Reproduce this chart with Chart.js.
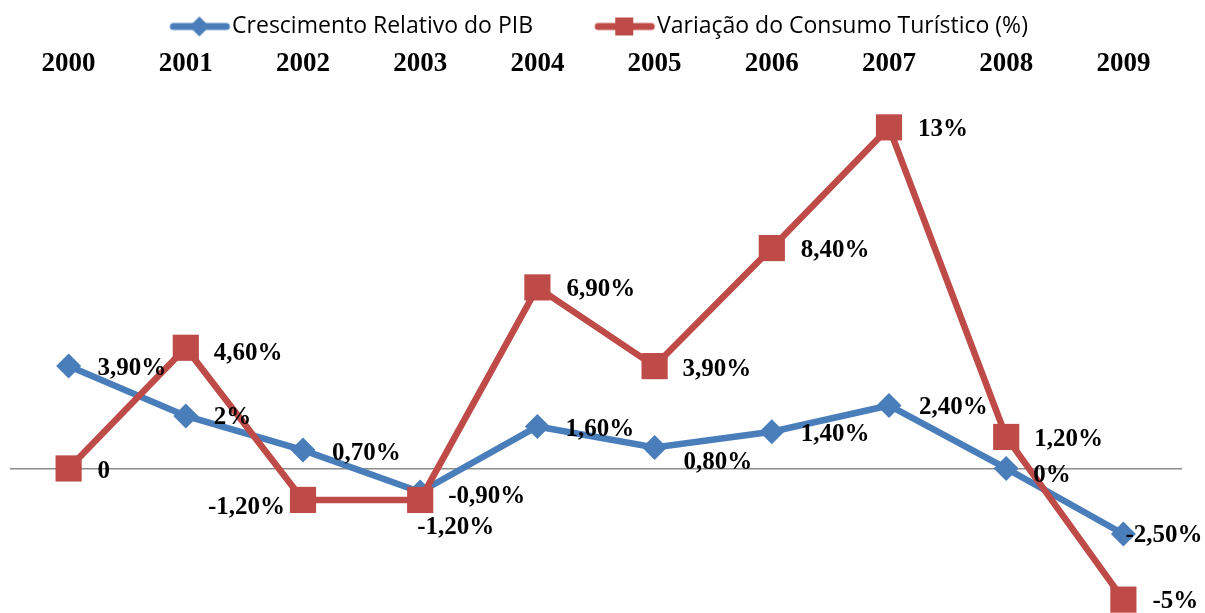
<!DOCTYPE html>
<html>
<head>
<meta charset="utf-8">
<script src="https://cdn.jsdelivr.net/npm/chart.js@4"></script>
<style>
	html, body { margin: 0; padding: 0; background: #fff; }
	#wrap { width: 1205px; height: 613px; }
</style>
</head>
<body>
<div id="wrap"><canvas id="lineChart"></canvas></div>
<script>
const years = ['2000', '2001', '2002', '2003', '2004', '2005', '2006', '2007', '2008', '2009'];
const pibGrowth = [3.9, 2, 0.7, -0.9, 1.6, 0.8, 1.4, 2.4, 0, -2.5];
const tourismChange = [0, 4.6, -1.2, -1.2, 6.9, 3.9, 8.4, 13, 1.2, -5];
const pibLabels = ['3,90%', '2%', '0,70%', '-0,90%', '1,60%', '0,80%', '1,40%', '2,40%', '0%', '-2,50%'];
const tourismLabels = ['0', '4,60%', '-1,20%', '-1,20%', '6,90%', '3,90%', '8,40%', '13%', '1,20%', '-5%'];

const BLUE = '#4A7EBB';
const RED = '#BE4B48';

// where each value label sits relative to its point: [dx, dy, align]
const pibLabelPos = [[29, 2], [28, 2], [29, 3], [28, 4], [28, 3], [29, 15], [29, 3], [30, 2], [27, 7], [2, 2]];
const tourismLabelPos = [[29, 3], [28, 6], [-18, 8, 'right'], [-3, 28], [29, 2], [28, 3], [29, 2], [29, 2], [28, 3], [29, 2]];

// legend swatch: a thick line with the marker on it
const makeSwatch = (color, diamond) => {
	const c = document.createElement('canvas');
	c.width = 124;
	c.height = 26;
	const g = c.getContext('2d');
	g.strokeStyle = color;
	g.fillStyle = color;
	g.lineWidth = 7;
	g.lineCap = 'round';
	g.beginPath();
	g.moveTo(66, 13);
	g.lineTo(119, 13);
	g.stroke();
	const cx = 92;
	g.beginPath();
	if (diamond) {
		g.moveTo(cx, 3);
		g.lineTo(cx + 10, 13);
		g.lineTo(cx, 23);
		g.lineTo(cx - 10, 13);
		g.closePath();
	} else {
		g.rect(cx - 9, 4, 18, 18);
	}
	g.fill();
	return c;
};
const swatches = [makeSwatch(BLUE, true), makeSwatch(RED, false)];

const valueLabels = {
	id: 'valueLabels',
	afterDatasetsDraw(chart) {
		const ctx = chart.ctx;
		const sets = [[pibLabels, pibLabelPos], [tourismLabels, tourismLabelPos]];
		ctx.save();
		ctx.font = 'bold 25px "Liberation Serif"';
		ctx.fillStyle = '#000';
		ctx.textBaseline = 'middle';
		sets.forEach(([texts, pos], di) => {
			const meta = chart.getDatasetMeta(di);
			meta.data.forEach((pt, i) => {
				const p = pos[i];
				ctx.textAlign = p[2] || 'left';
				ctx.fillText(texts[i], pt.x + p[0], pt.y + p[1]);
			});
		});
		ctx.restore();
	},
};

const canvas = document.querySelector('#lineChart');
new Chart(canvas, {
	type: 'line',
	data: {
		labels: years,
		datasets: [
			{
				label: 'Crescimento Relativo do PIB',
				data: pibGrowth,
				borderColor: BLUE,
				backgroundColor: BLUE,
				borderWidth: 6.5,
				pointStyle: 'rectRot',
				pointRadius: 12.5,
				pointBorderWidth: 0,
				order: 1,
				clip: false,
			},
			{
				label: 'Variação do Consumo Turístico (%)',
				data: tourismChange,
				borderColor: RED,
				backgroundColor: RED,
				borderWidth: 6.5,
				pointStyle: 'rect',
				pointRadius: 18.5,
				pointBorderWidth: 0,
				order: 0,
				clip: false,
			},
		],
	},
	options: {
		responsive: true,
		maintainAspectRatio: false,
		animation: false,
		events: [],
		layout: { autoPadding: false, padding: { top: 5, left: 10, right: 23, bottom: 0 } },
		plugins: {
			tooltip: { enabled: false },
			legend: {
				position: 'top',
				labels: {
					usePointStyle: true,
					pointStyleWidth: 102.5,
					padding: 10,
					color: '#000',
					font: { family: '"Open Sans"', size: 23 },
					sort: (a, b) => a.datasetIndex - b.datasetIndex,
					generateLabels: (chart) => {
						const items = Chart.defaults.plugins.legend.labels.generateLabels(chart);
						items.forEach((it) => {
							it.pointStyle = swatches[it.datasetIndex];
							// the legend sits a bit left of centre in the original
							if (it.datasetIndex === 1) it.text += '\u2003\u2003';
						});
						return items;
					},
				},
			},
		},
		scales: {
			x: {
				position: 'top',
				offset: true,
				grid: { display: false, drawTicks: false, offset: true },
				border: { display: false },
				ticks: {
					color: '#000',
					padding: 0,
					font: { family: '"Liberation Serif"', size: 27, weight: 'bold' },
				},
			},
			y: {
				min: -5.51,
				max: 14.79,
				ticks: { display: false, stepSize: 1 },
				border: { display: false },
				grid: {
					drawTicks: false,
					lineWidth: 1.5,
					color: (ctx) => (ctx.tick && ctx.tick.value === 0 ? '#8C8C8C' : 'rgba(0,0,0,0)'),
				},
			},
		},
	},
	plugins: [valueLabels],
});
</script>
</body>
</html>
